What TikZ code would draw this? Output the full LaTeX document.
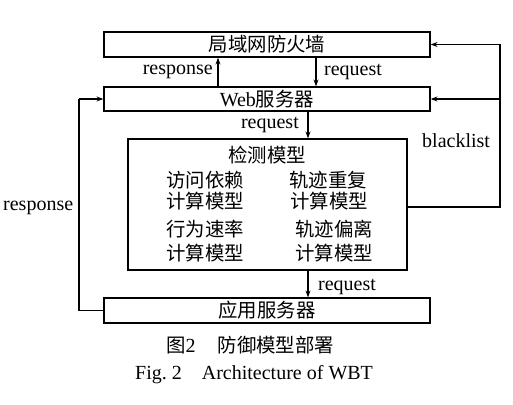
\documentclass[tikz,border=0pt]{standalone}
\usepackage{fontspec}
\setmainfont{Liberation Serif}
\newfontfamily\cjkfont{Noto Sans CJK SC}[Scale=0.97]
\newcommand{\zhtext}[1]{{\cjkfont #1}}
\usetikzlibrary{arrows.meta}
\begin{document}
\begin{tikzpicture}[x=1pt,y=-1pt,
  font=\fontsize{20}{24}\selectfont,
  box/.style={draw,line width=1.2pt,rectangle,inner sep=0pt,minimum height=25pt,minimum width=326pt},
  conn/.style={line width=1.1pt},
  arr/.style={conn,-{Stealth[length=7pt,width=5pt]}},
  lbl/.style={inner sep=0pt}]
\useasboundingbox (0,0) rectangle (513,404);
% boxes
\node[box] (fw) at (267,44.5) {\zhtext{局域网防火墙}};
\node[box,minimum height=24pt] (web) at (267,99) {Web\zhtext{服务器}};
\node[box,minimum width=279pt,minimum height=131pt] (det) at (267.5,204.5) {};
\node[box] (app) at (267,310.5) {\zhtext{应用服务器}};
% detection model contents
\node[lbl] (dt) at (267,155) {\zhtext{检测模型}};
\node[lbl] (m1a) at (205,180) {\zhtext{访问依赖}};
\node[lbl] (m1b) at (205,201) {\zhtext{计算模型}};
\node[lbl] (m2a) at (328,180) {\zhtext{轨迹重复}};
\node[lbl] (m2b) at (329,201) {\zhtext{计算模型}};
\node[lbl] (m3a) at (205,229) {\zhtext{行为速率}};
\node[lbl] (m3b) at (205,253) {\zhtext{计算模型}};
\node[lbl] (m4a) at (334,229) {\zhtext{轨迹偏离}};
\node[lbl] (m4b) at (334,253) {\zhtext{计算模型}};
% helper coordinates
\coordinate (xr) at (218,0);
\coordinate (xq) at (316,0);
\coordinate (xd) at (308,0);
\coordinate (bl1) at (500,207);
\coordinate (bl2) at (500,44.5);
\coordinate (dx) at (407,207);
\coordinate (rs1) at (79,310.5);
\coordinate (rs2) at (79,99);
% connectors
\draw[arr] (web.north -| xr) -- (fw.south -| xr);
\draw[arr] (fw.south -| xq) -- (web.north -| xq);
\draw[arr] (web.south -| xd) -- (det.north -| xd);
\draw[arr] (det.south -| xd) -- (app.north -| xd);
\draw[conn] (dx) -- (bl1) -- (bl2);
\draw[arr] (bl2) -- (fw.east);
\draw[arr] (bl1 |- web.east) -- (web.east);
\draw[conn] (app.west) -- (rs1) -- (rs2);
\draw[arr] (rs2) -- (web.west);
% labels
\node[lbl,anchor=east] (l1) at (213,72) {response};
\node[lbl,anchor=west] (l2) at (324,72) {request};
\node[lbl,anchor=east] (l3) at (299,125) {request};
\node[lbl,anchor=west] (l4) at (422,141) {blacklist};
\node[lbl,anchor=west] (l5) at (3,208) {response};
\node[lbl,anchor=west] (l6) at (318,287) {request};
% caption
\node[lbl,anchor=west] (c1) at (166,345) {\zhtext{图}2\hspace{22pt}\zhtext{防御模型部署}};
\node[lbl,anchor=west] (c2) at (135,375) {Fig.\ 2\hspace{20pt}Architecture of WBT};
\end{tikzpicture}
\end{document}
